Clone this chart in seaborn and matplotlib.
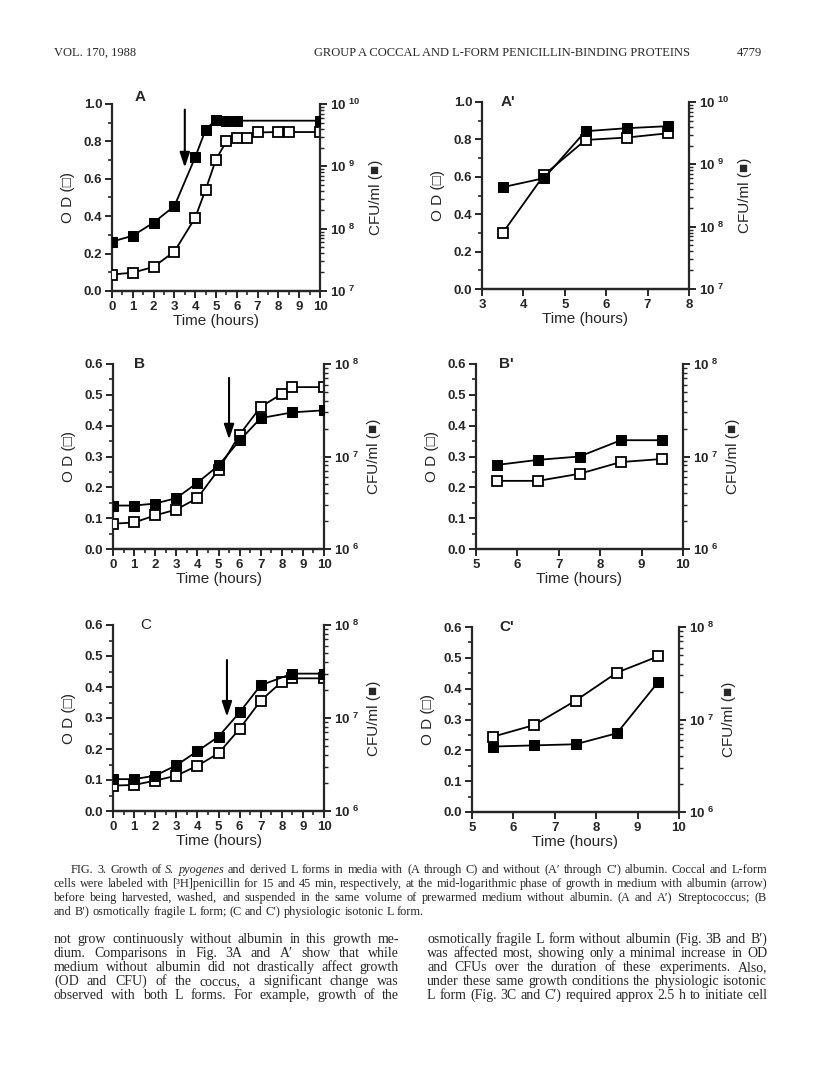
import matplotlib
matplotlib.use('Agg')
import matplotlib.pyplot as plt
import matplotlib.ticker as mticker
import seaborn as sns
import numpy as np

# ---- data ----
# panel A (with albumin), streptococcus
a_t_od = [0, 1, 2, 3, 4, 4.5, 5, 5.5, 6, 6.5, 7, 8, 8.5, 10]
a_od = [0.088, 0.098, 0.129, 0.211, 0.392, 0.542, 0.703, 0.801, 0.818, 0.818, 0.848, 0.850, 0.850, 0.850]
a_t_cfu = [0, 1, 2, 3, 4, 4.5, 5, 5.5, 6, 10]
a_cfu = [6.2e7, 7.7e7, 1.25e8, 2.3e8, 1.4e9, 3.85e9, 5.6e9, 5.3e9, 5.4e9, 5.4e9]

# panel A' (without albumin)
ap_t = [3.5, 4.5, 5.5, 6.5, 7.5]
ap_od = [0.30, 0.61, 0.797, 0.81, 0.833]
ap_cfu = [4.3e8, 6.0e8, 3.4e9, 3.8e9, 4.1e9]

# panel B, osmotically fragile L form
b_t_od = [0, 1, 2, 3, 4, 5, 6, 7, 8, 8.5, 10]
b_od = [0.082, 0.086, 0.109, 0.128, 0.165, 0.257, 0.371, 0.461, 0.503, 0.525, 0.525]
b_t_cfu = [0, 1, 2, 3, 4, 5, 6, 7, 8.5, 10]
b_cfu = [2.95e6, 2.95e6, 3.1e6, 3.55e6, 5.2e6, 8.0e6, 1.49e7, 2.6e7, 3.0e7, 3.16e7]

# panel B'
bp_t = [5.5, 6.5, 7.5, 8.5, 9.5]
bp_od = [0.221, 0.221, 0.244, 0.282, 0.292]
bp_cfu = [8.1e6, 9.2e6, 1.0e7, 1.5e7, 1.5e7]

# panel C, physiologic isotonic L form
c_t_od = [0, 1, 2, 3, 4, 5, 6, 7, 8, 8.5, 10]
c_od = [0.082, 0.084, 0.098, 0.114, 0.146, 0.186, 0.265, 0.356, 0.417, 0.428, 0.428]
c_t_cfu = [0, 1, 2, 3, 4, 5, 6, 7, 8.5, 10]
c_cfu = [2.2e6, 2.2e6, 2.4e6, 3.1e6, 4.4e6, 6.3e6, 1.15e7, 2.25e7, 3.0e7, 3.0e7]

# panel C'
cp_t = [5.5, 6.5, 7.5, 8.5, 9.5]
cp_od = [0.244, 0.282, 0.361, 0.452, 0.505]
cp_cfu = [5.1e6, 5.25e6, 5.4e6, 7.1e6, 2.55e7]

# arrows (time, start OD, tip OD)
a_arrow = [3.5, 0.97, 0.66]
b_arrow = [5.5, 0.555, 0.355]
c_arrow = [5.4, 0.487, 0.304]

header_left = 'VOL. 170, 1988'
header_mid = 'GROUP A COCCAL AND L-FORM PENICILLIN-BINDING PROTEINS'
header_page = '4779'

caption = [
    "FIG. 3. Growth of _S._ _pyogenes_ and derived L forms in media with (A through C) and without (A\u2032 through C\u2032) albumin. Coccal and L-form",
    "cells were labeled with [\u00b3H]penicillin for 15 and 45 min, respectively, at the mid-logarithmic phase of growth in medium with albumin (arrow)",
    "before being harvested, washed, and suspended in the same volume of prewarmed medium without albumin. (A and A\u2032) Streptococcus; (B",
    "and B\u2032) osmotically fragile L form; (C and C\u2032) physiologic isotonic L form.",
]
body_left = [
    "not grow continuously without albumin in this growth me-",
    "dium. Comparisons in Fig. 3A and A\u2032 show that while",
    "medium without albumin did not drastically affect growth",
    "(OD and CFU) of the coccus, a significant change was",
    "observed with both L forms. For example, growth of the",
]
body_right = [
    "osmotically fragile L form without albumin (Fig. 3B and B\u2032)",
    "was affected most, showing only a minimal increase in OD",
    "and CFUs over the duration of these experiments. Also,",
    "under these same growth conditions the physiologic isotonic",
    "L form (Fig. 3C and C\u2032) required approx 2.5 h to initiate cell",
]

sns.set_style('ticks')
plt.rcParams['font.family'] = ['Liberation Sans', 'DejaVu Sans']
plt.rcParams['mathtext.default'] = 'regular'

W, H = 816, 1080
fig = plt.figure(figsize=(W / 100, H / 100), dpi=100)


def box(x0, y0, x1, y1):
    return [x0 / W, 1 - y1 / H, (x1 - x0) / W, (y1 - y0) / H]


def panel(rect, letter, lx, ly, letter_bold, xlim, xticks, xminor, ylim, ystep,
          t_od, od, t_cfu, cfu, cfu_lim, arrow=None, label_pad_r=6):
    ax = fig.add_axes(rect)
    ax2 = ax.twinx()
    sns.lineplot(x=t_od, y=od, ax=ax, color='black', lw=1.3, marker='s', markersize=7.5,
                 markerfacecolor='white', markeredgecolor='black', markeredgewidth=1.3,
                 zorder=3)
    sns.lineplot(x=t_cfu, y=cfu, ax=ax2, color='black', lw=1.3, marker='s', markersize=7.5,
                 markerfacecolor='black', markeredgecolor='black', zorder=3)
    ax.set_xlim(xlim)
    ax.set_ylim(ylim)
    ax.set_xticks(xticks)
    ax.set_xticklabels([str(t) for t in xticks])
    if xminor:
        ax.xaxis.set_minor_locator(mticker.MultipleLocator(0.5))
    ax.yaxis.set_major_locator(mticker.MultipleLocator(ystep))
    ax.yaxis.set_minor_locator(mticker.MultipleLocator(ystep / 2))
    ax.yaxis.set_major_formatter(mticker.FormatStrFormatter('%.1f'))
    ax2.set_yscale('log')
    ax2.set_ylim(cfu_lim)
    dec = np.arange(int(round(np.log10(cfu_lim[0]))), int(round(np.log10(cfu_lim[1]))) + 1)
    ax2.yaxis.set_major_locator(mticker.FixedLocator(10.0 ** dec))
    ax2.yaxis.set_major_formatter(mticker.FixedFormatter(['10 $^{%d}$' % d for d in dec]))
    ax2.yaxis.set_minor_locator(mticker.LogLocator(base=10, subs=np.arange(2, 10)))
    ax2.yaxis.set_minor_formatter(mticker.NullFormatter())
    for a in (ax, ax2):
        a.spines['top'].set_visible(False)
        for s in ('left', 'right', 'bottom'):
            a.spines[s].set_linewidth(1.6)
    ax.spines['right'].set_visible(False)
    ax2.spines['left'].set_visible(False)
    ax.tick_params(which='major', length=5, width=1.4, labelsize=9.5, pad=2)
    ax.tick_params(which='minor', length=3, width=1.2)
    ax2.tick_params(which='major', length=5, width=1.4, labelsize=9.5, pad=2)
    ax2.tick_params(which='minor', length=3, width=1.0)
    for lab in ax.get_xticklabels() + ax.get_yticklabels() + ax2.get_yticklabels():
        lab.set_fontweight('bold')
    ax.set_xlabel('Time (hours)', fontsize=11, labelpad=1)
    ax.set_ylabel('O D (\u25a1)', fontsize=11, labelpad=6)
    ax2.set_ylabel('CFU/ml (\u25a0)', fontsize=11, labelpad=label_pad_r)
    ax.yaxis.label.set_family(['Liberation Sans', 'DejaVu Sans'])
    ax2.yaxis.label.set_family(['Liberation Sans', 'DejaVu Sans'])
    ax.text(lx, ly, letter, transform=ax.transAxes, fontsize=11,
            fontweight='bold' if letter_bold else 'normal', ha='left', va='center')
    if arrow is not None:
        ax.annotate('', xy=(arrow[0], arrow[2]), xytext=(arrow[0], arrow[1]),
                    arrowprops=dict(arrowstyle='-|>,head_length=0.9,head_width=0.3',
                                    color='black', lw=1.5, shrinkA=0, shrinkB=0))
    return ax, ax2


panel(box(112, 104, 320, 291), 'A', 0.11, 1.04, True, (0, 10), list(range(11)), True,
      (0, 1.0), 0.2, a_t_od, a_od, a_t_cfu, a_cfu, (1e7, 1e10), a_arrow)
panel(box(482, 102, 689, 289), "A'", 0.09, 1.0, True, (3, 8), list(range(3, 9)), False,
      (0, 1.0), 0.2, ap_t, ap_od, ap_t, ap_cfu, (1e7, 1e10))
panel(box(113, 364, 324, 549), 'B', 0.10, 1.0, True, (0, 10), list(range(11)), True,
      (0, 0.6), 0.1, b_t_od, b_od, b_t_cfu, b_cfu, (1e6, 1e8), b_arrow)
panel(box(476, 364, 683, 549), "B'", 0.11, 1.0, True, (5, 10), list(range(5, 11)), False,
      (0, 0.6), 0.1, bp_t, bp_od, bp_t, bp_cfu, (1e6, 1e8))
panel(box(113, 625, 324, 811), 'C', 0.13, 1.0, False, (0, 10), list(range(11)), True,
      (0, 0.6), 0.1, c_t_od, c_od, c_t_cfu, c_cfu, (1e6, 1e8), c_arrow)
panel(box(472, 627, 679, 812), "C'", 0.13, 1.0, True, (5, 10), list(range(5, 11)), False,
      (0, 0.6), 0.1, cp_t, cp_od, cp_t, cp_cfu, (1e6, 1e8))

# ---- page text ----
serif = ['Liberation Serif', 'DejaVu Serif']
renderer = fig.canvas.get_renderer()


def line_text(s, x0, x1, y, size, justify=True):
    words = s.split()
    items = []
    for w in words:
        ital = len(w) > 2 and w.startswith('_') and w.endswith('_')
        w = w.strip('_') if ital else w
        t = fig.text(0, 1 - y / H, w, fontsize=size, family=serif,
                     style='italic' if ital else 'normal', va='baseline', ha='left')
        items.append(t)
    widths = [t.get_window_extent(renderer).width for t in items]
    if justify and len(items) > 1:
        gap = (x1 - x0 - sum(widths)) / (len(items) - 1)
    else:
        gap = size * 100 / 72 * 0.25
    x = x0
    for t, w in zip(items, widths):
        t.set_x(x / W)
        x += w + gap


fig.text(54 / W, 1 - 56 / H, header_left, fontsize=9, family=serif, va='baseline')
fig.text(314 / W, 1 - 56 / H, header_mid, fontsize=9, family=serif, va='baseline')
fig.text(737 / W, 1 - 56 / H, header_page, fontsize=9, family=serif, va='baseline')

cap_y = [873, 887, 901, 915]
for i, s in enumerate(caption):
    x0 = 71 if i == 0 else 54
    line_text(s, x0, 767, cap_y[i], 8.8, justify=(i < len(caption) - 1))

body_y = [943, 957, 971, 985, 999]
for i, s in enumerate(body_left):
    line_text(s, 54, 399, body_y[i], 10)
for i, s in enumerate(body_right):
    line_text(s, 427, 767, body_y[i], 10)

fig.savefig('out.png', dpi=100)
